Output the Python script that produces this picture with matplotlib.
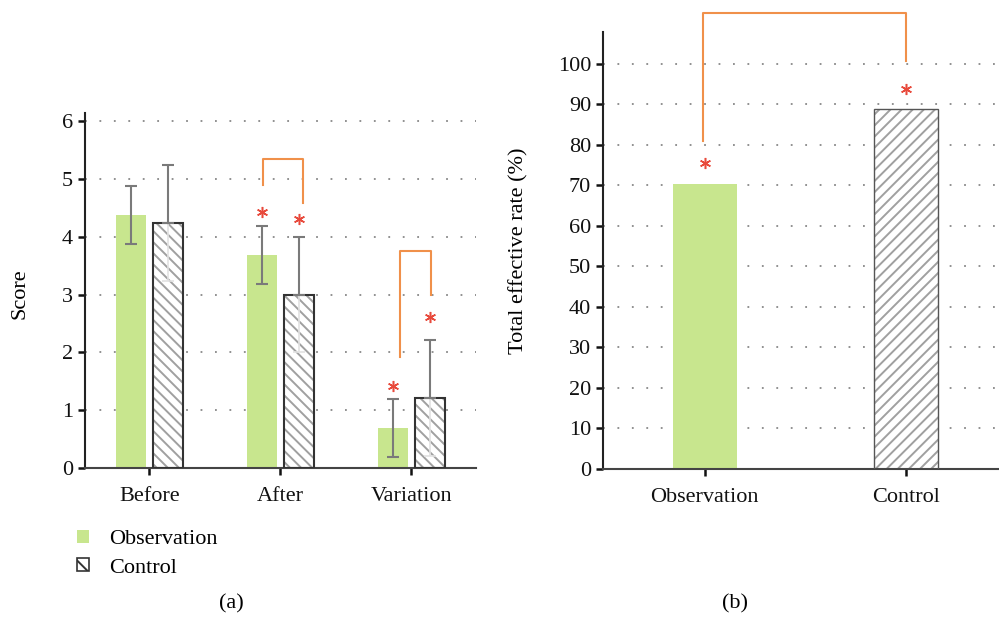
import matplotlib
matplotlib.use('Agg')
import matplotlib.pyplot as plt
from matplotlib.patches import Patch
import numpy as np

plt.rcParams['font.family'] = ['Liberation Serif', 'DejaVu Serif']
plt.rcParams['font.size'] = 16
plt.rcParams['hatch.linewidth'] = 1.4

# panel (a) data
phases = ['Before', 'After', 'Variation']
obs_score = [4.38, 3.68, 0.69]
obs_err = [0.5, 0.5, 0.5]
ctrl_score = [4.24, 3.00, 1.21]
ctrl_err = [1.0, 1.0, 1.0]

# panel (b) data
groups = ['Observation', 'Control']
eff_rate = [70.4, 88.9]

GREEN = '#c8e68e'
ORANGE = '#f0904a'
RED = '#e84a3c'
ERR = '#7a7a7a'
HATCH = '#a0a0a0'


def style_axis(ax):
    for s in ['top', 'right']:
        ax.spines[s].set_visible(False)
    ax.spines['left'].set_linewidth(1.5)
    ax.spines['left'].set_color('#222')
    ax.spines['bottom'].set_linewidth(1.5)
    ax.spines['bottom'].set_color('#444')
    ax.tick_params(direction='out', length=5, width=1.8, colors='#111')
    ax.tick_params(axis='x', pad=9)
    ax.yaxis.grid(True, linestyle=(0, (1, 7)), color='#888', linewidth=1.3)
    ax.set_axisbelow(True)


def star(ax, x, y):
    ax.plot(x, y, marker=(6, 2, 0), ms=8, mew=1.1, color=RED, ls='none',
            clip_on=False, zorder=5)


def bracket(ax, x1, x2, y1, ytop, y2):
    ax.plot([x1, x1, x2, x2], [y1, ytop, ytop, y2], color=ORANGE, lw=1.5,
            clip_on=False, zorder=5)


fig = plt.figure(figsize=(9.99, 6.18), dpi=100)

# ---- (a) ----
ax1 = fig.add_axes([0.0851, 0.2427, 0.391, 0.5744])
x = np.arange(len(phases))
w = 0.23
off = 0.142
ax1.bar(x - off, obs_score, w, color=GREEN, zorder=2)
ax1.bar(x + off, ctrl_score, w, color='white', edgecolor=HATCH, hatch='\\\\\\',
        linewidth=0, zorder=2)
ax1.bar(x + off, ctrl_score, w, fill=False, edgecolor='#333', linewidth=1.5, zorder=3)

ax1.errorbar(x - off, obs_score, yerr=obs_err, fmt='none', ecolor=ERR,
             elinewidth=1.5, capsize=4, capthick=1.5, zorder=4)
ax1.errorbar(x + off, ctrl_score, yerr=[np.zeros(3), ctrl_err], fmt='none',
             ecolor=ERR, elinewidth=1.5, capsize=4, capthick=1.5, zorder=4)
ax1.errorbar(x + off, ctrl_score, yerr=[ctrl_err, np.zeros(3)], fmt='none',
             ecolor='#e2e2e2', elinewidth=1.2, capsize=4, capthick=1.2, zorder=2.5)

bracket(ax1, 1 - 0.13, 1 + 0.175, 4.89, 5.34, 4.58)
bracket(ax1, 2 - 0.084, 2 + 0.153, 1.92, 3.75, 2.99)
star(ax1, 1 - off, 4.42)
star(ax1, 1 + off, 4.30)
star(ax1, 2 - off, 1.42)
star(ax1, 2 + off, 2.61)

ax1.set_xlim(-0.49, 2.49)
ax1.set_ylim(0, 6.14)
ax1.set_yticks(range(7))
ax1.set_xticks(x)
ax1.set_xticklabels(phases)
style_axis(ax1)
ax1.set_ylabel('Score')
ax1.yaxis.set_label_coords(-0.143, 0.49)

handles = [Patch(facecolor=GREEN, edgecolor='none'),
           Patch(facecolor='white', edgecolor='#333', hatch='\\\\', linewidth=1.2)]
fig.legend(handles, ['Observation', 'Control'], loc='upper left',
           bbox_to_anchor=(0.077, 0.143), frameon=False, handlelength=0.55,
           handleheight=0.55, handletextpad=0.9, labelspacing=0.4,
           borderaxespad=0, borderpad=0)

# ---- (b) ----
ax2 = fig.add_axes([0.6036, 0.2411, 0.3964, 0.7071])
xb = np.arange(len(groups))
wb = 0.317
ax2.bar(xb[0], eff_rate[0], wb, color=GREEN, zorder=2)
ax2.bar(xb[1], eff_rate[1], wb, color='white', edgecolor=HATCH, hatch='///',
        linewidth=0, zorder=2)
ax2.bar(xb[1], eff_rate[1], wb, fill=False, edgecolor='#555', linewidth=1.0, zorder=3)

bracket(ax2, -0.01, 1.0, 81.0, 112.6, 100.7)
star(ax2, 0, 75.5)
star(ax2, 1, 93.8)

ax2.set_xlim(-0.505, 1.46)
ax2.set_ylim(0, 107.8)
ax2.set_yticks(range(0, 101, 10))
ax2.set_xticks(xb)
ax2.set_xticklabels(groups)
style_axis(ax2)
ax2.set_ylabel('Total effective rate (%)')
ax2.yaxis.set_label_coords(-0.189, 0.5)

fig.text(231 / 999, 1 - 604 / 618, '(a)', ha='center', va='center')
fig.text(735 / 999, 1 - 604 / 618, '(b)', ha='center', va='center')

fig.savefig('out.png', dpi=100)
